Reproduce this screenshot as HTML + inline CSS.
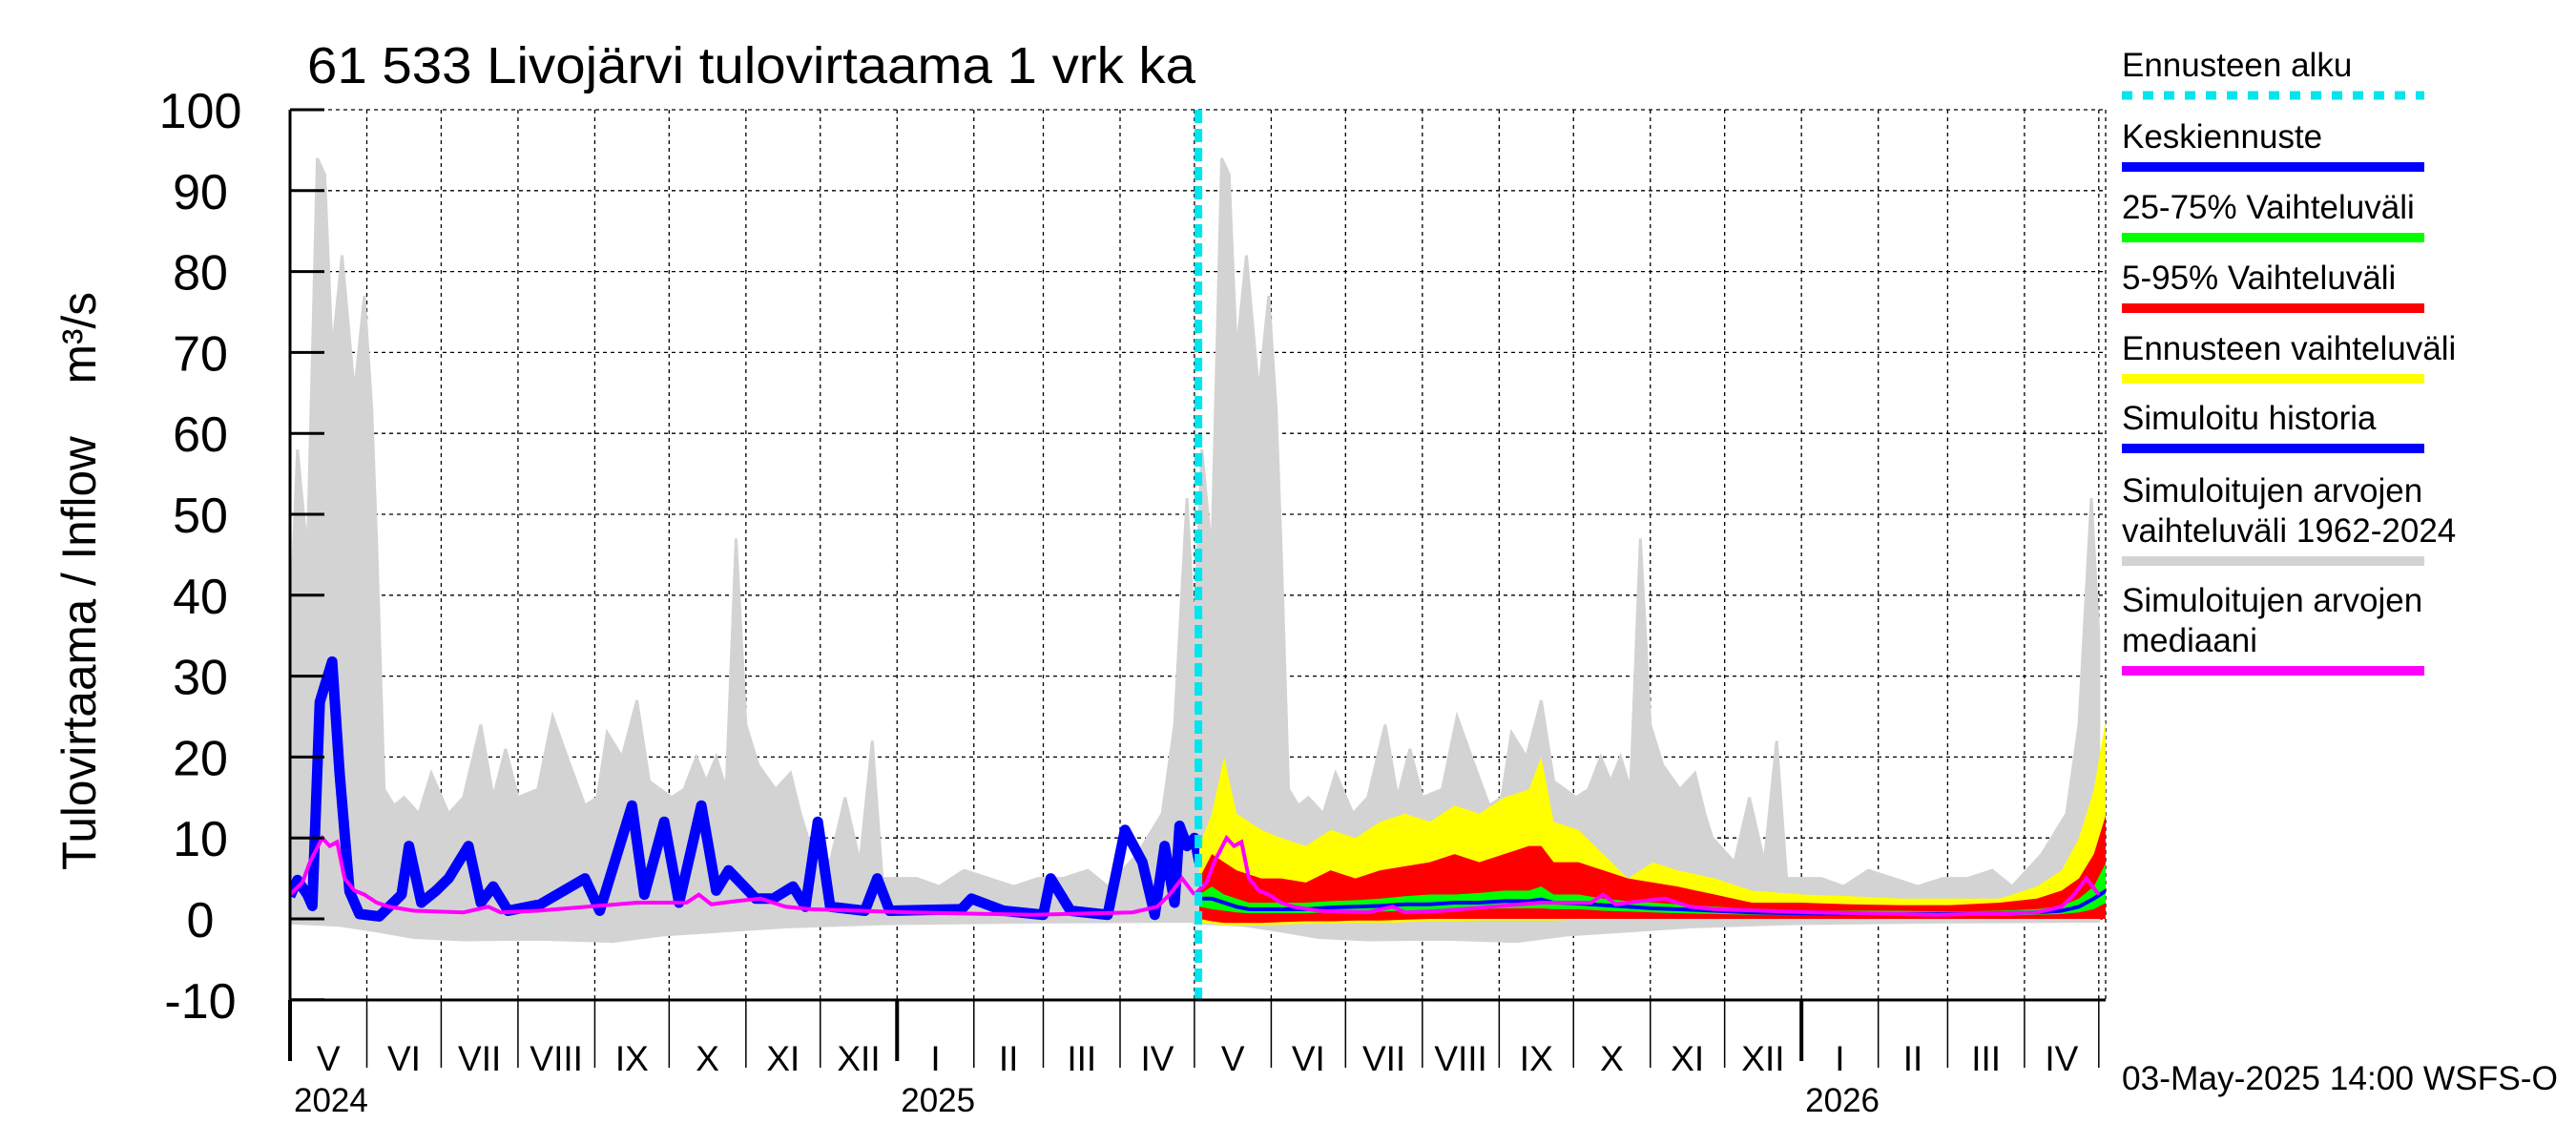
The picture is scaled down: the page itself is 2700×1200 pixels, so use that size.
<!DOCTYPE html>
<html><head><meta charset="utf-8"><style>
html,body{margin:0;padding:0;background:#fff;}
svg{display:block;font-family:"Liberation Sans",sans-serif;}
</style></head><body>
<svg id="chart" width="2700" height="1200" viewBox="0 0 2700 1200" xmlns="http://www.w3.org/2000/svg">
<defs><clipPath id="plotclip"><rect x="304" y="115" width="1903" height="933"/></clipPath></defs>
<rect width="2700" height="1200" fill="#fff"/>
<text x="322" y="87" font-size="54" textLength="931" lengthAdjust="spacingAndGlyphs">61 533 Livojärvi tulovirtaama 1 vrk ka</text>
<text transform="translate(100,912) rotate(-90)" font-size="50" style="white-space:pre" textLength="606" lengthAdjust="spacingAndGlyphs">Tulovirtaama / Inflow    m³/s</text>
<g id="grid"></g>
<g id="series" clip-path="url(#plotclip)"></g>
<g id="axes"></g>
<g id="legend"></g>
<text x="2224" y="1142" font-size="35" textLength="457" lengthAdjust="spacingAndGlyphs">03-May-2025 14:00 WSFS-O</text>
</svg>
<script>
// ---- data (days since 2024-05-01 / day-of-year from May 1) ----
const yTicks = [100,90,80,70,60,50,40,30,20,10,0,-10];
const monthNames = ["V","VI","VII","VIII","IX","X","XI","XII","I","II","III","IV"];
const monthLengths = [31,30,31,31,30,31,30,31,31,28,31,30];
const yearLabels = ["2024","2025","2026"];
const forecastStartDay = 367;
// historical simulated range (day-of-year from May 1)
const greyMaxDoy = [0,3,7,11,14,17,21,26,30,33,35,38,42,46,52,57,64,70,77,82,87,92,100,106,113,119,124,128,134,140,145,154,159,164,168,172,176,180,184,189,196,202,206,209,218,224,230,235,239,246,253,262,272,282,292,302,312,322,330,342,352,357,362,365];
const greyMaxVal = [35,58,45,94,92,70,82,65,77,63,46,16,14,15,13,18,13,15,24,15,21,15,16,25,19,14,15,23,20,27,17,15,16,20,17,20,16,47,24,19,16,18,13,10,7,15,7,22,5,5,5,4,6,5,4,5,5,6,4,8,13,24,52,35];
const greyMinDoy = [0,20,35,50,70,100,130,150,170,200,240,300,365];
const greyMinVal = [-0.5,-0.8,-1.5,-2.3,-2.6,-2.5,-2.8,-2,-1.6,-1,-0.6,-0.4,-0.3];
// simulated history
const histDays = [0,3,7,9,12,17,20,24,28,36,45,48,53,59,64,72,77,82,88,101,119,125,138,143,151,157,166,172,177,188,195,203,208,213,218,232,237,242,271,275,288,304,307,315,330,337,344,349,353,357,359,362,365,367];
const histVals = [2.8,4.8,3,1.6,26.8,31.8,18,3.4,0.6,0.3,3,9,2,3.5,5,9,2,4,1,1.8,5,1,14,3,12,2,14,3.5,6,2.5,2.5,4,1.5,12,1.5,1,5,1,1.2,2.5,1,0.5,5,1,0.5,11,7,0.5,9,2,11.5,9,10,7];
// median of simulated values (day-of-year)
const medDoy = [0,5,8,13,16,19,22,26,30,35,40,50,70,80,85,100,120,140,160,165,170,180,190,200,210,250,300,340,350,355,360,365];
const medVal = [3,4.5,7,10,9,9.5,5,3.5,3,2,1.5,1,0.8,1.5,0.8,1,1.5,2,2,3,1.8,2.2,2.5,1.5,1.2,0.8,0.5,0.8,1.5,3,5,3];
// forecast
const fcDays = [367,372,377,382,387,392,400,410,420,430,440,450,460,470,480,490,500,505,510,520,530,540,550,560,575,590,610,630,650,670,690,705,715,722,728,733];
const yellowMax = [9,13,20,13,12,11,10,9,11,10,12,13,12,14,13,15,16,20,12,11,8,5,7,6,5,3.5,3,2.8,2.5,2.5,2.5,4,6,10,16,25];
const yellowMin = [-0.5,-0.6,-0.8,-0.8,-0.8,-0.8,-0.7,-0.6,-0.6,-0.5,-0.5,-0.4,-0.3,-0.3,-0.2,-0.2,-0.2,-0.2,-0.2,-0.1,-0.1,0,0,0,0,0,0,0,0,0,0,0,0,0,0,0];
const redMax = [5,8,7,6,5.5,5,5,4.5,6,5,6,6.5,7,8,7,8,9,9,7,7,6,5,4.5,4,3,2,2,1.8,1.7,1.7,2,2.5,3.5,5,8,13];
const redMin = [0,-0.3,-0.5,-0.5,-0.5,-0.5,-0.4,-0.3,-0.3,-0.2,-0.2,-0.1,0,0,0,0,0,0,0,0,0,0,0,0,0,0,0,0,0,0,0,0,0,0,0,0];
const greenMax = [3,4,3,2.5,2,2,2,2,2.2,2.3,2.5,2.8,3,3,3.2,3.5,3.5,4,3,3,2.5,2.2,2,1.8,1.5,1.2,1,1,1,0.9,1,1.2,1.6,2.5,4,7];
const greenMin = [1.5,1.2,1,0.8,0.7,0.7,0.7,0.7,0.8,0.8,0.9,1,1,1.2,1.2,1.3,1.3,1.3,1.2,1.2,1,0.9,0.8,0.7,0.6,0.5,0.5,0.4,0.4,0.4,0.4,0.5,0.6,0.8,1.2,2];
const blueMean = [2.5,2.5,2,1.5,1.2,1.2,1.2,1.2,1.4,1.5,1.6,1.8,1.8,2,2,2.2,2.2,2.4,2,1.9,1.7,1.5,1.3,1.2,1,0.8,0.7,0.6,0.6,0.6,0.7,0.8,1,1.5,2.5,3.5];

// ---- scales ----
const PX_DAY = 2.597;
function X(d){ return 304 + d*PX_DAY; }
function Y(v){ return 963 - v*8.48; }
const NS = "http://www.w3.org/2000/svg";
function mk(tag, attrs, parent){
  const e = document.createElementNS(NS, tag);
  for (const k in attrs) e.setAttribute(k, attrs[k]);
  parent.appendChild(e); return e;
}
const grid = document.getElementById('grid');
const series = document.getElementById('series');
const axes = document.getElementById('axes');
const legend = document.getElementById('legend');

const bounds = [0];
for (let y=0;y<2;y++) for (let m=0;m<12;m++) bounds.push(bounds[bounds.length-1]+monthLengths[m]);

for (const t of yTicks) {
  if (t === -10) continue;
  const l = mk('line',{x1:304,x2:2207,y1:Y(t),y2:Y(t),stroke:'#000','stroke-width':1.3,'stroke-dasharray':'4,4'},grid);
  
  
}
for (let i=1;i<bounds.length;i++){
  const l = mk('line',{x1:X(bounds[i]),x2:X(bounds[i]),y1:115,y2:1048,stroke:'#000','stroke-width':1.3,'stroke-dasharray':'4,4'},grid);
  
  
}
mk('line',{x1:2207,x2:2207,y1:115,y2:1048,stroke:'#000','stroke-width':1.3,'stroke-dasharray':'4,4'},grid);

function band(days, hi, daysLo, lo, off){
  let pts = [];
  for (let i=0;i<days.length;i++) pts.push(X(days[i]+off)+','+Y(hi[i]));
  for (let i=daysLo.length-1;i>=0;i--) pts.push(X(daysLo[i]+off)+','+Y(lo[i]));
  return pts.join(' ');
}
function line(days, vals, off){
  return days.map((d,i)=>X(d+off)+','+Y(vals[i])).join(' ');
}
for (const off of [0,365]) {
  const g = mk('polygon',{points:band(greyMaxDoy,greyMaxVal,greyMinDoy,greyMinVal,off),fill:'#d3d3d3',stroke:'#d3d3d3','stroke-width':3},series);
  
  
}
const h = mk('polyline',{points:line(histDays,histVals,0),fill:'none',stroke:'#0000ff','stroke-width':11,'stroke-linejoin':'round'},series);


const yb = mk('polygon',{points:band(fcDays,yellowMax,fcDays,yellowMin,0),fill:'#ffff00'},series);


const rb = mk('polygon',{points:band(fcDays,redMax,fcDays,redMin,0),fill:'#ff0000'},series);


const gb = mk('polygon',{points:band(fcDays,greenMax,fcDays,greenMin,0),fill:'#00ff00'},series);


const bm = mk('polyline',{points:line(fcDays,blueMean,0),fill:'none',stroke:'#0000ff','stroke-width':4},series);


for (const off of [0,365]) {
  const m = mk('polyline',{points:line(medDoy,medVal,off),fill:'none',stroke:'#ff00ff','stroke-width':4},series);
  
  
}
const fs = mk('line',{x1:X(forecastStartDay)-1,x2:X(forecastStartDay)-1,y1:115,y2:1048,stroke:'#00e5ee','stroke-width':8,'stroke-dasharray':'14,6'},series);



mk('line',{x1:304,x2:304,y1:115,y2:1049,stroke:'#000','stroke-width':3},axes);
mk('line',{x1:303,x2:2207,y1:1048,y2:1048,stroke:'#000','stroke-width':3},axes);
for (const t of yTicks){
  mk('line',{x1:304,x2:340,y1:Y(t),y2:Y(t),stroke:'#000','stroke-width':3},axes);
  const tx = mk('text',{x:210,y:Y(t)+19,'font-size':52,'text-anchor':'middle'},axes);
  tx.textContent = String(t);
  
  
}
for (let i=0;i<bounds.length;i++){
  const yr = (i===0||i===8||i===20);
  mk('line',{x1:X(bounds[i]),x2:X(bounds[i]),y1:1048,y2:yr?1112:1119,stroke:'#000','stroke-width':yr?4:1.5},axes);
  if (i<bounds.length-1){
    const tx = mk('text',{x:(X(bounds[i])+X(bounds[i+1]))/2,y:1122,'font-size':37,'text-anchor':'middle'},axes);
    tx.textContent = monthNames[i%12];
    
    
  }
}
[0,8,20].forEach((bi,k)=>{
  const tx = mk('text',{x:X(bounds[bi])+4,y:1165,'font-size':35},axes);
  tx.textContent = yearLabels[k];
  
  
});

const legItems = [
  {t:["Ennusteen alku"],c:'#00e5ee',ly:100,dash:true},
  {t:["Keskiennuste"],c:'#0000ff',ly:175},
  {t:["25-75% Vaihteluväli"],c:'#00ff00',ly:249},
  {t:["5-95% Vaihteluväli"],c:'#ff0000',ly:323},
  {t:["Ennusteen vaihteluväli"],c:'#ffff00',ly:397},
  {t:["Simuloitu historia"],c:'#0000ff',ly:470},
  {t:["Simuloitujen arvojen","vaihteluväli 1962-2024"],c:'#d3d3d3',ly:588},
  {t:["Simuloitujen arvojen","mediaani"],c:'#ff00ff',ly:703}
];
for (const it of legItems){
  const g = mk('g',{},legend);
  
  
  const n = it.t.length;
  it.t.forEach((s,i)=>{
    const tx = mk('text',{x:2224,y:it.ly-20-(n-1-i)*42,'font-size':35},g);
    tx.textContent = s;
  });
  const a = {x1:2224,x2:2541,y1:it.ly,y2:it.ly,stroke:it.c,'stroke-width':it.dash?9:10};
  if (it.dash) a['stroke-dasharray']='11,11';
  mk('line',a,g);
}
</script>
</body></html>
